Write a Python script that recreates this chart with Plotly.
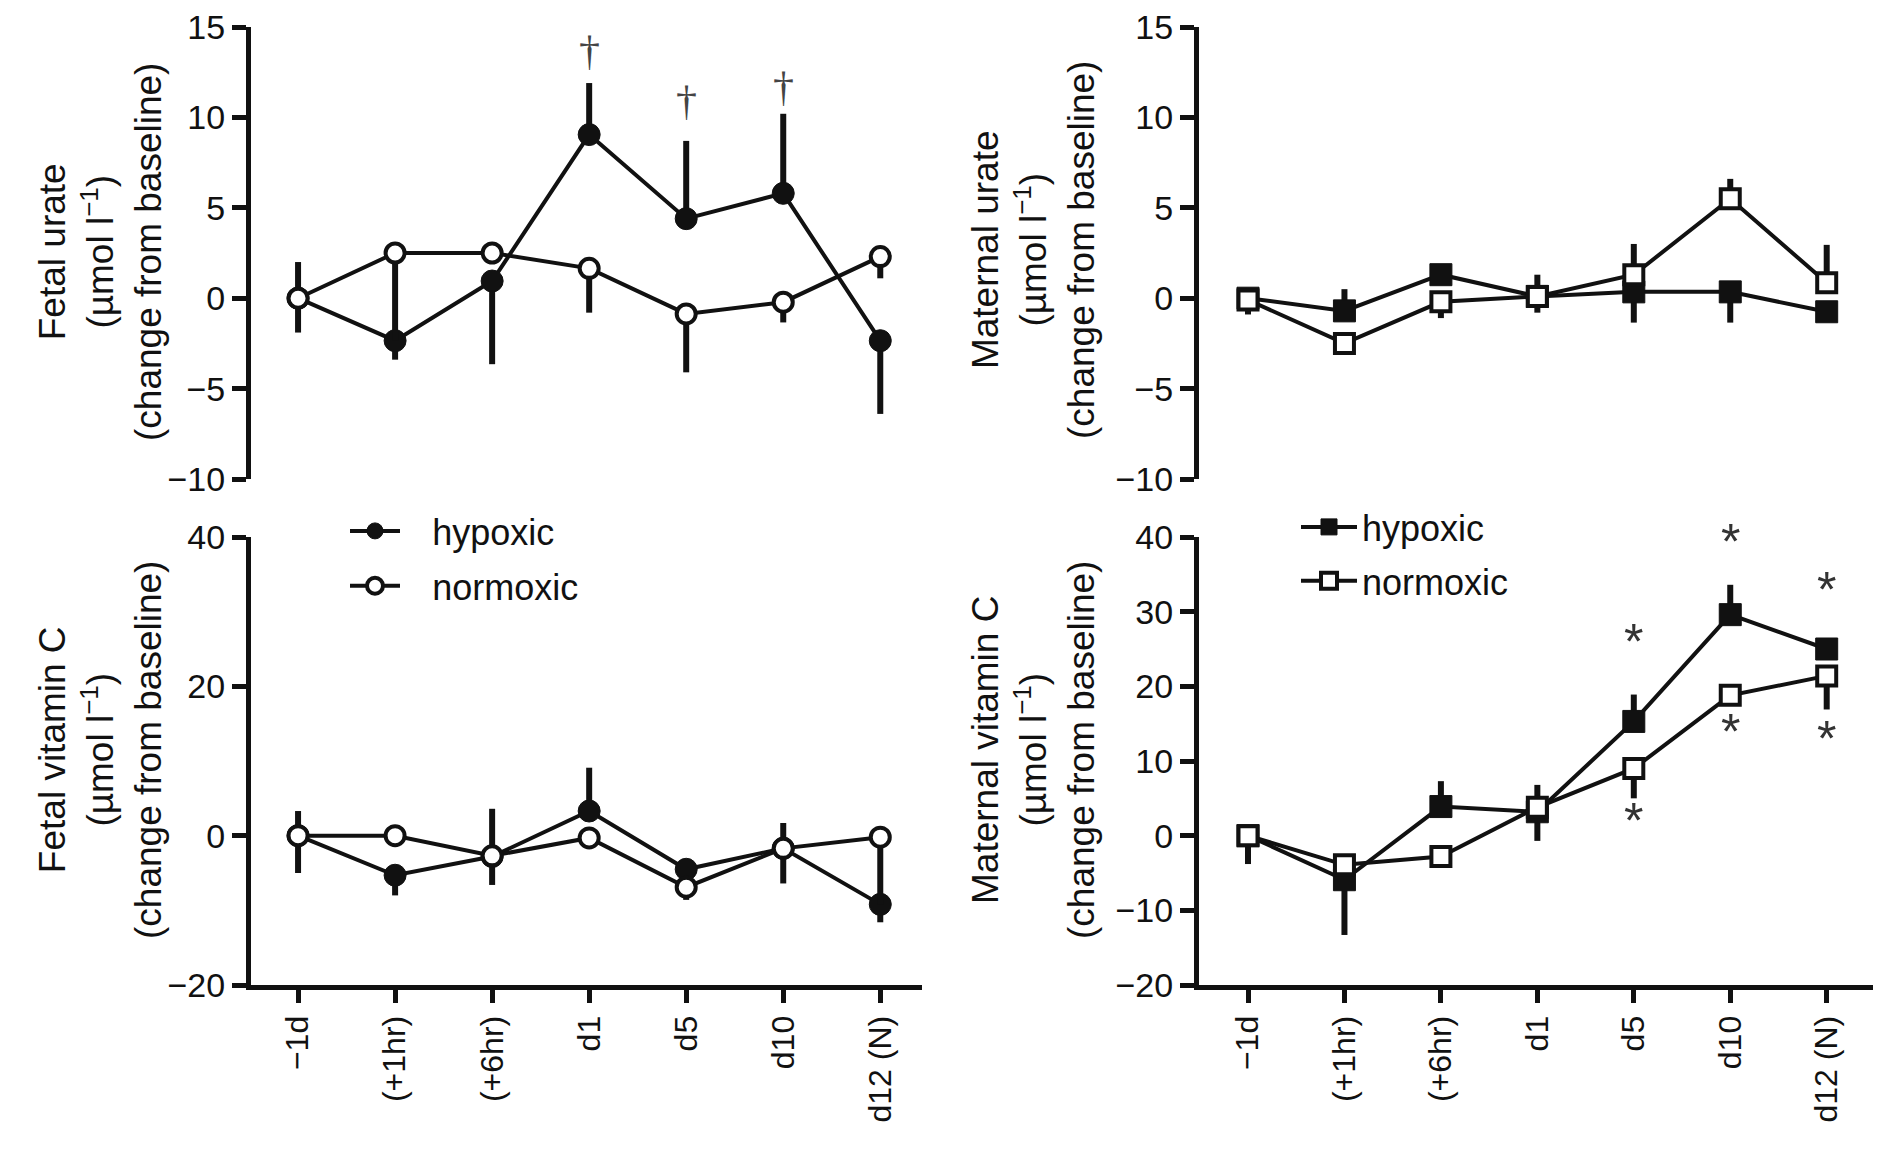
import plotly.graph_objects as go

W, H = 1889, 1153

cats = ["\u22121d", "(+1hr)", "(+6hr)", "d1", "d5", "d10", "d12 (N)"]

# Fetal urate
fu_hyp = [0, -2.35, 0.95, 9.05, 4.4, 5.8, -2.35]
fu_hyp_plus = [2.0, 0, 0, 2.85, 4.3, 4.4, 0]
fu_hyp_minus = [0, 1.05, 4.6, 0, 0, 0, 4.05]
fu_norm = [0, 2.5, 2.5, 1.65, -0.87, -0.22, 2.3]
fu_norm_plus = [0, 0, 0, 0, 0, 0, 0]
fu_norm_minus = [1.9, 4.85, 0, 2.45, 3.23, 1.12, 1.2]

# Maternal urate
mu_hyp = [0, -0.7, 1.3, 0.1, 0.35, 0.35, -0.75]
mu_hyp_plus = [0, 1.2, 0, 0, 0, 0, 0]
mu_hyp_minus = [0, 0, 0, 0.9, 1.7, 1.7, 0]
mu_norm = [-0.1, -2.5, -0.2, 0.1, 1.3, 5.5, 0.85]
mu_norm_plus = [0, 0, 0, 1.2, 1.7, 1.1, 2.1]
mu_norm_minus = [0.8, 0, 0.9, 0, 0, 0, 0]

# Fetal vitamin C
fc_hyp = [0, -5.3, -2.8, 3.3, -4.5, -1.7, -9.2]
fc_hyp_plus = [3.3, 0, 6.4, 5.8, 1.2, 3.4, 0]
fc_hyp_minus = [0, 2.7, 0, 0, 0, 0, 2.4]
fc_norm = [0, 0, -2.7, -0.3, -6.9, -1.7, -0.2]
fc_norm_plus = [0, 0, 0, 0, 0, 0, 0]
fc_norm_minus = [5.0, 1.3, 3.9, 0, 1.7, 4.7, 9.0]

# Maternal vitamin C
mc_hyp = [0, -5.9, 3.9, 3.2, 15.3, 29.6, 25.0]
mc_hyp_plus = [0, 0, 3.4, 0, 3.6, 4.0, 0]
mc_hyp_minus = [0, 7.4, 0, 3.9, 0, 0, 0]
mc_norm = [0, -3.9, -2.8, 3.8, 9.0, 18.8, 21.4]
mc_norm_plus = [0, 0, 0, 3.0, 0, 0, 0]
mc_norm_minus = [3.8, 0, 0, 0, 4.0, 0, 4.5]

# significance marks
dag_cats = ["d1", "d5", "d10"]
dag_y = [13.7, 10.9, 11.7]
ast_cats = ["d5", "d5", "d10", "d10", "d12 (N)", "d12 (N)"]
ast_y = [26.6, 2.6, 40.0, 14.6, 33.6, 13.6]

FONT = "Liberation Sans, Arial, sans-serif"
BLACK = "#111111"

fig = go.Figure()


def add_pair(xa, ya, hyp, hp, hm, norm, np_, nm, symbol, legend, showlegend, pad):
    fig.add_trace(go.Scatter(
        x=cats, y=hyp, mode="lines+markers", name=pad + "hypoxic",
        xaxis=xa, yaxis=ya, legend=legend, showlegend=showlegend,
        legendgroup=legend + "h",
        line=dict(color=BLACK, width=4),
        marker=dict(symbol=symbol, size=22, color=BLACK, line=dict(color=BLACK, width=1)),
        error_y=dict(type="data", symmetric=False, array=hp, arrayminus=hm,
                     color=BLACK, thickness=6, width=0),
    ))
    fig.add_trace(go.Scatter(
        x=cats, y=norm, mode="lines+markers", name=pad + "normoxic",
        xaxis=xa, yaxis=ya, legend=legend, showlegend=showlegend,
        legendgroup=legend + "n",
        line=dict(color=BLACK, width=4),
        marker=dict(symbol=symbol, size=19, color="white", line=dict(color=BLACK, width=4)),
        error_y=dict(type="data", symmetric=False, array=np_, arrayminus=nm,
                     color=BLACK, thickness=6, width=0),
    ))


PADL = "\u00a0\u00a0\u2009"
add_pair("x", "y", fu_hyp, fu_hyp_plus, fu_hyp_minus, fu_norm, fu_norm_plus, fu_norm_minus,
         "circle", "legend", False, PADL)
add_pair("x2", "y2", mu_hyp, mu_hyp_plus, mu_hyp_minus, mu_norm, mu_norm_plus, mu_norm_minus,
         "square", "legend2", False, "")
add_pair("x3", "y3", fc_hyp, fc_hyp_plus, fc_hyp_minus, fc_norm, fc_norm_plus, fc_norm_minus,
         "circle", "legend", True, PADL)
add_pair("x4", "y4", mc_hyp, mc_hyp_plus, mc_hyp_minus, mc_norm, mc_norm_plus, mc_norm_minus,
         "square", "legend2", True, "")

LEFT = [251 / W, 922 / W]
RIGHT = [1199 / W, 1873 / W]
TOP = [1 - 479 / H, 1 - 27 / H]
BOT = [1 - 985 / H, 1 - 537 / H]
XR_L = [-0.485, 6.43]
XR_R = [-0.508, 6.48]

yax_common = dict(showline=True, linewidth=5, linecolor=BLACK, ticks="outside", ticklen=14,
                  tickwidth=5, tickcolor=BLACK, showgrid=False, zeroline=False,
                  tickfont=dict(family=FONT, size=34, color=BLACK), automargin=False,
                  fixedrange=True)
xax_top = dict(type="category", showline=False, ticks="", showticklabels=False,
               showgrid=False, zeroline=False, automargin=False)
xax_bot = dict(type="category", showline=True, linewidth=5, linecolor=BLACK, ticks="outside",
               ticklen=13, tickwidth=5, tickcolor=BLACK, showgrid=False, zeroline=False,
               tickangle=-90, tickfont=dict(family=FONT, size=32, color=BLACK),
               automargin=False)

fig.update_layout(
    width=W, height=H,
    margin=dict(l=0, r=0, t=0, b=0),
    paper_bgcolor="white", plot_bgcolor="white",
    font=dict(family=FONT, color=BLACK),
    xaxis=dict(domain=LEFT, range=XR_L, anchor="y", **xax_top),
    yaxis=dict(domain=TOP, range=[-10, 15], dtick=5, anchor="x", **yax_common),
    xaxis2=dict(domain=RIGHT, range=XR_R, anchor="y2", **xax_top),
    yaxis2=dict(domain=TOP, range=[-10, 15], dtick=5, anchor="x2", **yax_common),
    xaxis3=dict(domain=LEFT, range=XR_L, anchor="y3", **xax_bot),
    yaxis3=dict(domain=BOT, range=[-20, 40], dtick=20, anchor="x3", **yax_common),
    xaxis4=dict(domain=RIGHT, range=XR_R, anchor="y4", **xax_bot),
    yaxis4=dict(domain=BOT, range=[-20, 40], dtick=10, anchor="x4", **yax_common),
    legend=dict(x=345 / W, y=1 - 501 / H, xanchor="left", yanchor="top",
                font=dict(family=FONT, size=36, color=BLACK), bgcolor="rgba(0,0,0,0)",
                itemwidth=50, tracegroupgap=5, traceorder="grouped"),
    legend2=dict(x=1296 / W, y=1 - 497 / H, xanchor="left", yanchor="top",
                 font=dict(family=FONT, size=36, color=BLACK), bgcolor="rgba(0,0,0,0)",
                 itemwidth=56, tracegroupgap=4, traceorder="grouped"),
)

# y-axis titles
titles = [
    ("Fetal urate<br>(\u00b5mol l<sup>\u22121</sup>)<br>(change from baseline)", 100 / W, 1 - 252 / H),
    ("Maternal urate<br>(\u00b5mol l<sup>\u22121</sup>)<br>(change from baseline)", 1033 / W, 1 - 250 / H),
    ("Fetal vitamin C<br>(\u00b5mol l<sup>\u22121</sup>)<br>(change from baseline)", 100 / W, 1 - 750 / H),
    ("Maternal vitamin C<br>(\u00b5mol l<sup>\u22121</sup>)<br>(change from baseline)", 1033 / W, 1 - 750 / H),
]
for txt, x, y in titles:
    fig.add_annotation(text=txt, x=x, y=y, xref="paper", yref="paper", showarrow=False,
                       textangle=-90, xanchor="center", yanchor="middle",
                       font=dict(family=FONT, size=37, color=BLACK))

for c, v in zip(dag_cats, dag_y):
    fig.add_annotation(text="\u2020", x=c, y=v, xref="x", yref="y", showarrow=False,
                       xanchor="center", yanchor="middle",
                       font=dict(family="Liberation Serif, Times New Roman, serif", size=42, color="#444444"))

for c, v in zip(ast_cats, ast_y):
    fig.add_annotation(text="*", x=c, y=v, xref="x4", yref="y4", showarrow=False,
                       xanchor="center", yanchor="middle", yshift=-5,
                       font=dict(family=FONT, size=50, color="#333333"))

fig.write_html("out.html")
